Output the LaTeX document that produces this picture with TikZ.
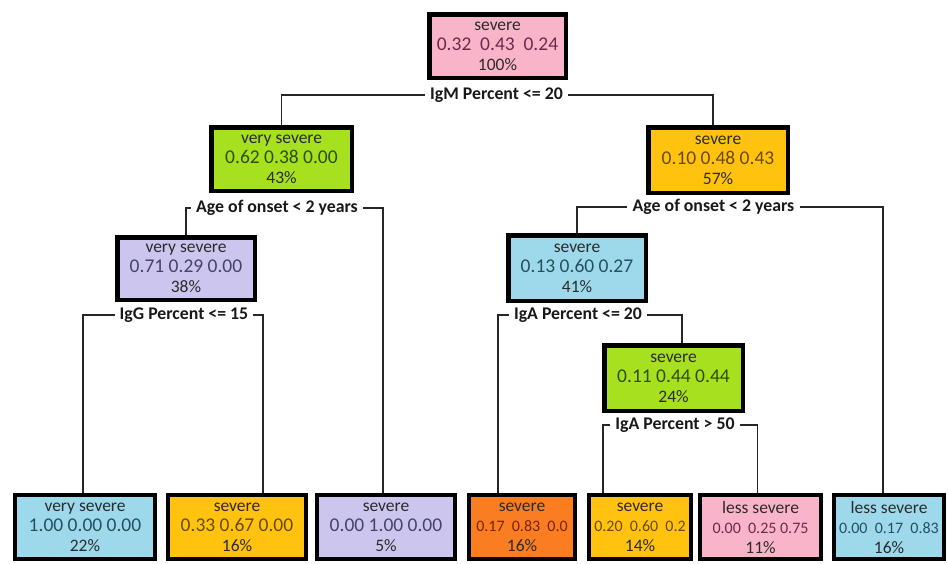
\documentclass[tikz,border=0pt]{standalone}
\usepackage{fontspec}
\setmainfont{Carlito}

% fills
\definecolor{pinkf}{HTML}{F9B4CA}
\definecolor{greenf}{HTML}{A6E01E}
\definecolor{goldf}{HTML}{FFC20E}
\definecolor{lavf}{HTML}{CCC6EE}
\definecolor{bluef}{HTML}{9DD9EA}
\definecolor{orangef}{HTML}{FA7D22}
% text tints
\definecolor{pinkt}{HTML}{6B2B48}
\definecolor{greent}{HTML}{2E4F00}
\definecolor{goldt}{HTML}{6B4A00}
\definecolor{lavt}{HTML}{45436A}
\definecolor{bluet}{HTML}{24505F}
\definecolor{oranget}{HTML}{7A2400}
\definecolor{titlegray}{HTML}{2B2B2B}

% probability line of a node body
\newcommand{\probs}[2]{{\fontsize{19.5}{20}\selectfont\color{#1}#2}}
\newcommand{\sprobs}[2]{{\fontsize{16}{20}\selectfont\color{#1}#2}}

\begin{document}
\begin{tikzpicture}[x=1pt,y=-1pt,
  box/.style={draw=black, line width=4.5pt, inner sep=0pt, align=center,
    font=\fontsize{17.5}{20}\selectfont, text=titlegray},
  leafbox/.style={box, line width=4pt, minimum height=64pt},
  cond/.style={font=\bfseries\fontsize{17.8}{20}\selectfont, text=black!90,
    inner xsep=5pt, inner ysep=1pt},
  wire/.style={line width=1.3pt, draw=black!85}]

\useasboundingbox[fill=white] (0,0) rectangle (948,563);

% split conditions
\node[cond] (c1) at (496.5,95)  {IgM Percent <= 20};
\node[cond] (c2) at (277,208)   {Age of onset < 2 years};
\node[cond] (c3) at (713.5,207) {Age of onset < 2 years};
\node[cond] (c4) at (184,315)   {IgG Percent <= 15};
\node[cond] (c5) at (578,315)   {IgA Percent <= 20};
\node[cond] (c6) at (675,425)   {IgA Percent > 50};

% inner nodes
\node[box, fill=pinkf, minimum width=136.5pt, minimum height=63.5pt] (root) at (497.5,46)
  {severe\\\probs{pinkt}{0.32\ \ 0.43\ \ 0.24}\\100\%};
\node[box, fill=greenf, minimum width=140.5pt, minimum height=63.5pt] (n2) at (281.5,159)
  {very severe\\\probs{greent}{0.62 0.38 0.00}\\43\%};
\node[box, fill=goldf, minimum width=139.5pt, minimum height=65.5pt] (n3) at (718,160)
  {severe\\\probs{goldt}{0.10 0.48 0.43}\\57\%};
\node[box, fill=lavf, minimum width=137.5pt, minimum height=62.5pt] (n4) at (186,268.5)
  {very severe\\\probs{lavt}{0.71 0.29 0.00}\\38\%};
\node[box, fill=bluef, minimum width=137.5pt, minimum height=65.5pt] (n5) at (577,268)
  {severe\\\probs{bluet}{0.13 0.60 0.27}\\41\%};
\node[box, fill=greenf, minimum width=138.5pt, minimum height=65.5pt] (n6) at (673.5,378)
  {severe\\\probs{greent}{0.11 0.44 0.44}\\24\%};

% leaves
\node[leafbox, fill=bluef, minimum width=140pt] (L1) at (85,527)
  {very severe\\\probs{bluet}{1.00 0.00 0.00}\\22\%};
\node[leafbox, fill=goldf, minimum width=138pt] (L2) at (237,527)
  {severe\\\probs{goldt}{0.33 0.67 0.00}\\16\%};
\node[leafbox, fill=lavf, minimum width=138pt] (L3) at (386,527)
  {severe\\\probs{lavt}{0.00 1.00 0.00}\\5\%};
\node[leafbox, fill=orangef, minimum width=106pt] (L4) at (522,527)
  {severe\\\sprobs{oranget}{0.17\ \ 0.83\ \ 0.0}\\16\%};
\node[leafbox, fill=goldf, minimum width=102pt] (L5) at (640,527)
  {severe\\\sprobs{goldt}{0.20\ \ 0.60\ \ 0.2}\\14\%};
\node[leafbox, fill=pinkf, minimum width=121pt] (L6) at (760.5,527)
  {less severe\\\sprobs{pinkt}{0.00\ \ 0.25 0.75}\\11\%};
\node[leafbox, fill=bluef, minimum width=110pt] (L7) at (889,527)
  {less severe\\\sprobs{bluet}{0.00\ \ 0.17\ \ 0.83}\\16\%};

% branches
\draw[wire] (c1.west) -| (n2.north);
\draw[wire] (c1.east) -| ([xshift=-5pt]n3.north);
\draw[wire] (c2.west) -| (n4.north);
\draw[wire] (c2.east) -| ([xshift=-3pt]L3.north);
\draw[wire] (c3.west) -| (n5.north);
\draw[wire] (c3.east) -| ([xshift=-6pt]L7.north);
\draw[wire] (c4.west) -| ([xshift=-2pt]L1.north);
\draw[wire] (c4.east) -| ([xshift=26pt]L2.north);
\draw[wire] (c5.west) -| ([xshift=-24pt]L4.north);
\draw[wire] (c5.east) -| ([xshift=8.5pt]n6.north);
\draw[wire] (c6.west) -| ([xshift=-37pt]L5.north);
\draw[wire] (c6.east) -| ([xshift=-3pt]L6.north);

\end{tikzpicture}
\end{document}
